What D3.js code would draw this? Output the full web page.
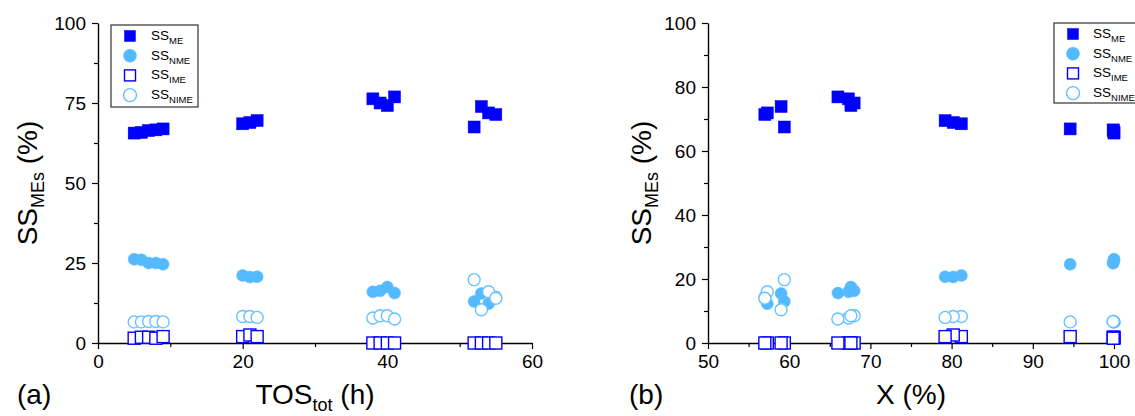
<!DOCTYPE html>
<html>
<head>
<meta charset="utf-8">
<script src="https://cdn.jsdelivr.net/npm/d3@7"></script>
<style>
  html, body { margin: 0; padding: 0; background: #fff; }
  svg { display: block; font-family: "Liberation Sans", Arial, sans-serif; }
</style>
</head>
<body>
<svg id="chart" width="1135" height="416"></svg>
<script>
// Total time on stream (h) and conversion (%) for each run
const tos  = [5, 6, 7, 8, 9, 20, 21, 22, 38, 39, 40, 41, 52, 53, 54, 55];
const conv = [100, 100, 99.9, 99.9, 94.6, 81.2, 80.2, 79.2, 67.3, 68.0, 67.6, 66.0, 59.4, 59.0, 57.3, 57.0];

// Selectivities (%)
const ssME   = [65.6, 65.8, 66.4, 66.6, 66.9, 68.5, 68.9, 69.5, 76.3, 75.0, 74.2, 76.9, 67.5, 73.9, 71.9, 71.4];
const ssNME  = [26.2, 26.0, 25.0, 25.0, 24.6, 21.1, 20.6, 20.7, 16.0, 16.3, 17.5, 15.6, 13.0, 15.5, 12.3, 14.4];
const ssIME  = [1.5, 1.8, 1.8, 1.5, 2.0, 2.0, 2.5, 2.0, 0, 0, 0, 0, 0, 0, 0, 0];
const ssNIME = [6.6, 6.6, 6.7, 6.7, 6.6, 8.3, 8.3, 8.0, 7.8, 8.5, 8.5, 7.5, 19.8, 10.4, 16.0, 14.0];

const seriesNames = ["ME", "NME", "IME", "NIME"];
const seriesValues = [ssME, ssNME, ssIME, ssNIME];

const leftXTicks = [0, 20, 40, 60];
const leftYTicks = [0, 25, 50, 75, 100];
const rightXTicks = [50, 60, 70, 80, 90, 100];
const rightYTicks = [0, 20, 40, 60, 80, 100];

const BLUE = "#0000ff";
const LIGHT = "#55b9ff";
const styles = {
  ME:   { shape: "square", fill: BLUE,  stroke: BLUE },
  NME:  { shape: "circle", fill: LIGHT, stroke: LIGHT },
  IME:  { shape: "square", fill: "#fff", stroke: BLUE },
  NIME: { shape: "circle", fill: "#fff", stroke: "#66c2ff" }
};

const svg = d3.select("#chart");

function marker(g, shape, cx, cy, size, st) {
  if (shape === "square") {
    g.append("rect")
      .attr("x", cx - size / 2).attr("y", cy - size / 2)
      .attr("width", size).attr("height", size)
      .attr("fill", st.fill).attr("stroke", st.stroke)
      .attr("stroke-width", st.fill === "#fff" ? 1.4 : 0.5);
  } else {
    g.append("circle")
      .attr("cx", cx).attr("cy", cy).attr("r", size / 2)
      .attr("fill", st.fill).attr("stroke", st.stroke)
      .attr("stroke-width", st.fill === "#fff" ? 1.4 : 0.5);
  }
}

function panel(opts) {
  const { xDomain, xRange, xTicks, xMinor, yTicks, yMinor, xVals, xTitle, tag, tagX, yTitleX, legend } = opts;
  const x = d3.scaleLinear().domain(xDomain).range(xRange);
  const y = d3.scaleLinear().domain([0, 100]).range([343, 23]);
  const g = svg.append("g");

  // minor ticks
  g.append("g").attr("transform", "translate(0,343)")
    .call(d3.axisBottom(x).tickValues(xMinor).tickSize(4).tickFormat(""))
    .call(a => a.select(".domain").remove())
    .selectAll("line").attr("stroke-width", 1.2);
  g.append("g").attr("transform", `translate(${xRange[0]},0)`)
    .call(d3.axisLeft(y).tickValues(yMinor).tickSize(4).tickFormat(""))
    .call(a => a.select(".domain").remove())
    .selectAll("line").attr("stroke-width", 1.2);

  // major axes
  const xa = g.append("g").attr("transform", "translate(0,343)")
    .call(d3.axisBottom(x).tickValues(xTicks).tickSize(6).tickSizeOuter(0).tickPadding(6));
  const ya = g.append("g").attr("transform", `translate(${xRange[0]},0)`)
    .call(d3.axisLeft(y).tickValues(yTicks).tickSize(6).tickSizeOuter(0).tickPadding(6));
  [xa, ya].forEach(a => {
    a.select(".domain").attr("stroke-width", 1.4);
    a.selectAll("line").attr("stroke-width", 1.2);
    a.selectAll("text").attr("font-size", 19).attr("fill", "#000")
      .attr("font-family", "Liberation Sans, Arial, sans-serif");
  });

  // points, one series after another
  const pts = g.append("g");
  seriesNames.forEach((name, si) => {
    const st = styles[name];
    seriesValues[si].forEach((v, i) => {
      marker(pts, st.shape, x(xVals[i]), y(v), 12, st);
    });
  });

  // axis titles
  const xt = g.append("text")
    .attr("x", (xRange[0] + xRange[1]) / 2).attr("y", 404)
    .attr("text-anchor", "middle").attr("font-size", 28);
  xTitle(xt);

  g.append("text").attr("x", tagX).attr("y", 404).attr("font-size", 28).text(tag);

  const yt = g.append("text")
    .attr("transform", `translate(${yTitleX},183) rotate(-90)`)
    .attr("text-anchor", "middle").attr("font-size", 28);
  yt.append("tspan").text("SS");
  yt.append("tspan").attr("font-size", 18).attr("dy", 7).text("MEs");
  yt.append("tspan").attr("dy", -7).text(" (%)");

  // legend
  const lg = g.append("g");
  lg.append("rect")
    .attr("x", legend.x).attr("y", legend.y).attr("width", legend.w).attr("height", legend.h)
    .attr("fill", "#fff").attr("stroke", "#333").attr("stroke-width", 1.2);
  seriesNames.forEach((name, i) => {
    const cy = legend.y + 11 + i * 19.7;
    const st = styles[name];
    marker(lg, st.shape, legend.x + legend.mx, cy, st.shape === "square" ? 11 : 13, st);
    const t = lg.append("text").attr("x", legend.x + legend.tx).attr("y", cy + 4).attr("font-size", 13.5);
    t.append("tspan").text("SS");
    t.append("tspan").attr("font-size", 9.5).attr("dy", 4).text(name);
  });
}

// (a) selectivity against time on stream
panel({
  xDomain: [0, 60], xRange: [98, 532],
  xTicks: leftXTicks, xMinor: [10, 30, 50],
  yTicks: leftYTicks, yMinor: [12.5, 37.5, 62.5, 87.5],
  xVals: tos,
  xTitle: t => {
    t.append("tspan").text("TOS");
    t.append("tspan").attr("font-size", 18).attr("dy", 7).text("tot");
    t.append("tspan").attr("dy", -7).text(" (h)");
  },
  tag: "(a)", tagX: 17, yTitleX: 37,
  legend: { x: 111, y: 25, w: 87, h: 82, mx: 19, tx: 40 }
});

// (b) selectivity against conversion
panel({
  xDomain: [50, 100], xRange: [708, 1114],
  xTicks: rightXTicks, xMinor: [55, 65, 75, 85, 95],
  yTicks: rightYTicks, yMinor: [10, 30, 50, 70, 90],
  xVals: conv,
  xTitle: t => { t.text("X (%)"); },
  tag: "(b)", tagX: 629, yTitleX: 651,
  legend: { x: 1054, y: 23, w: 84, h: 80, mx: 19, tx: 39 }
});
</script>
</body>
</html>
